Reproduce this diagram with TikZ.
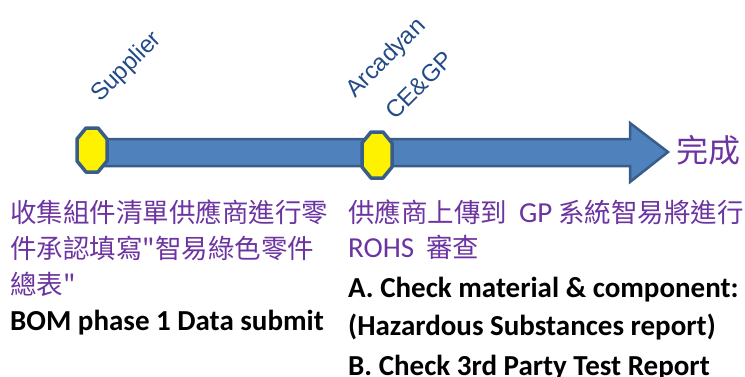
\documentclass[tikz,border=0pt]{standalone}
\usepackage{fontspec}
\setmainfont{Carlito}
\newfontfamily\cjk{Noto Sans CJK TC}
\newfontfamily\latinfont{Carlito}
\newfontfamily\arialfont{Liberation Sans}
\definecolor{arrowfill}{RGB}{79,129,189}
\definecolor{arrowline}{RGB}{56,93,138}
\definecolor{rolecolor}{RGB}{35,75,135}
\definecolor{stepcolor}{RGB}{108,52,160}
\tikzset{
  milestone/.style={fill=yellow,draw=arrowline,line width=3.5pt,line join=round},
  role/.style={font=\arialfont\fontsize{24}{28}\selectfont,text=rolecolor,rotate=45,anchor=base west,inner sep=0pt},
  stepzh/.style={font=\cjk\fontsize{26.5}{32}\selectfont,text=stepcolor,anchor=base west,inner sep=0pt},
  stepen/.style={font=\bfseries\fontsize{29}{34}\selectfont,anchor=base west,inner sep=0pt},
}
\begin{document}
\begin{tikzpicture}[x={(1pt,0)},y={(0,-1pt)}]
	\useasboundingbox (0,0) rectangle (745,376);
	% timeline
	\draw[fill=arrowfill,draw=arrowline,line width=2.5pt,line join=miter]
	(92,139) -- (630,139) -- (630,123) -- (668,152) -- (630,182) -- (630,166) -- (92,166) -- cycle;
	\draw[milestone,shift={(92,150)}] (-6,-22) -- (6,-22) -- (15,-11) -- (15,11) -- (6,22) -- (-6,22) -- (-15,11) -- (-15,-11) -- cycle;
	\draw[milestone,shift={(377,155)}] (-6,-23) -- (6,-23) -- (15,-12) -- (15,12) -- (6,23) -- (-6,23) -- (-15,12) -- (-15,-12) -- cycle;
	\node[font=\cjk\fontsize{32}{36}\selectfont,text=stepcolor,anchor=west,inner sep=0pt] (done) at (676,150) {完成};
	
	% who
	\node[role] (supplier) at (100,103) {Supplier};
	\node[role] (arcadyan) at (355,99) {Arcadyan};
	\node[role] (cegp) at (395,121) {CE\&GP};
	
	% what
	\node[stepzh] (supzh1) at (10,222) {收集組件清單供應商進行零};
	\node[stepzh] (supzh2) at (10,258) {件承認填寫"智易綠色零件};
	\node[stepzh] (supzh3) at (10,294) {總表"};
	\node[stepen] (bom) at (10,330) {BOM phase 1 Data submit};
	\node[stepzh] (gpzh1) at (348,222) {供應商上傳到\ \ {\latinfont\fontsize{29}{34}\selectfont GP} 系統智易將進行};
	\node[stepzh] (gpzh2) at (348,257) {{\latinfont\fontsize{29}{34}\selectfont ROHS}\ \ 審查};
	\node[stepen] (checka) at (348,297) {A. Check material \& component:};
	\node[stepen] (checkh) at (348,335) {(Hazardous Substances report)};
	\node[stepen] (checkb) at (348,375) {B. Check 3rd Party Test Report};
\end{tikzpicture}
\end{document}
